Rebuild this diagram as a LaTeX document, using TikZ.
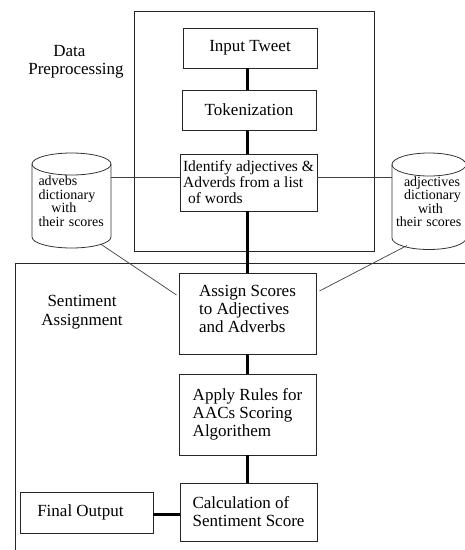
\documentclass[tikz,border=0pt]{standalone}
\usepackage{fontspec}
\setmainfont{Liberation Serif}
\usetikzlibrary{calc}
\begin{document}
\begin{tikzpicture}[x=1pt,y=-1pt,
  frame/.style={draw=black!85, line width=0.9pt},
  box/.style={draw=black!85, line width=0.9pt, align=left, inner sep=0pt,
    font=\fontsize{17}{18}\selectfont},
  cyltext/.style={align=left, inner sep=0pt, minimum height=96pt,
    font=\fontsize{14}{13.5}\selectfont},
  cyl/.style={draw=black!80, line width=0.8pt},
  flow/.style={line width=3pt, black},
  link/.style={line width=0.7pt, black!75},
  grouplabel/.style={font=\fontsize{17}{18.5}\selectfont, inner sep=0pt}]
\useasboundingbox (0,0) rectangle (465,550);
\begin{scope}
\clip (0,0) rectangle (465,550);
% group frames
\draw[frame] (134,11) rectangle (374,251);
\draw[frame] (15,550) -- (15,263) -- (470,263);
\node[grouplabel, align=left] (dp) at (76,62) {\hspace*{25pt}Data\\Preprocessing};
\node[grouplabel, align=center] (sa) at (82,312) {Sentiment\\Assignment};

% main boxes
\node[box, minimum width=134pt, minimum height=40pt] (it) at (250,48) {Input Tweet};
\node[box, minimum width=134pt, minimum height=40pt] (tk) at (249,110) {Tokenization};
\node[box, minimum width=137pt, minimum height=57pt, font=\fontsize{15.5}{16}\selectfont] (id) at (248.5,182.5)
  {Identify adjectives \&\\Adverds from a list\\\hspace*{5pt}of words};
\node[box, minimum width=137pt, minimum height=81pt] (as) at (247.5,313.5)
  {Assign Scores\\to Adjectives\\and Adverbs\\[-9pt]\mbox{}};
\node[box, minimum width=137pt, minimum height=81pt] (ap) at (247.5,414.5)
  {Apply Rules for\\AACs Scoring\\Algorithem};
\node[box, minimum width=137pt, minimum height=58pt] (ca) at (248.5,512)
  {Calculation of\\Sentiment Score};
\node[box, minimum width=133pt, minimum height=41pt] (fo) at (86.5,512.5)
  {\hspace*{-12pt}Final Output};

% cylinders (text nodes + outlines)
\node[cyltext, minimum width=79pt, text width=66pt] (lc) at (71.5,201)
  {advebs\\dictionary\\\hspace*{13pt}with\\their scores};
\node[cyltext, minimum width=74pt, text width=66pt] (rc) at (429,201.5)
  {\hspace*{8pt}adjectives\\\hspace*{8pt}dictionary\\\hspace*{22pt}with\\their scores};

\draw[cyl] (71.5,164) ellipse [x radius=39.5, y radius=11];
\draw[cyl] (32,164) -- (32,237) arc[start angle=180, end angle=0, x radius=39.5, y radius=11] -- (111,164);
\draw[cyl] (429,164.5) ellipse [x radius=37, y radius=11.5];
\draw[cyl] (392,164.5) -- (392,238) arc[start angle=180, end angle=0, x radius=37, y radius=11.5] -- (466,164.5);

% thin links
\coordinate (idl) at ([yshift=5.5pt]id.west);
\coordinate (idr) at ([yshift=5.5pt]id.east);
\draw[link] (idl) -- (idl -| lc.east);
\draw[link] (idr) -- (idr -| rc.west);
\coordinate (lcb) at ([xshift=29.5pt,yshift=-43.3pt]lc.center);
\coordinate (rcb) at ([xshift=-22pt,yshift=-44pt]rc.center);
\draw[link] (lcb) -- ([xshift=-2pt,yshift=18.5pt]as.west);
\draw[link] (rcb) -- ([xshift=3pt,yshift=22.5pt]as.east);

% thick flow
\draw[flow] (247,0 |- it.south) -- (247,0 |- tk.north);
\draw[flow] (247,0 |- tk.south) -- (247,0 |- id.north);
\draw[flow] (247,0 |- id.south) -- (247,0 |- as.north);
\draw[flow] (247,0 |- as.south) -- (247,0 |- ap.north);
\draw[flow] (247,0 |- ap.south) -- (247,0 |- ca.north);
\draw[flow] (ca.west |- 0,514) -- (fo.east |- 0,514);
\end{scope}
\end{tikzpicture}
\end{document}
